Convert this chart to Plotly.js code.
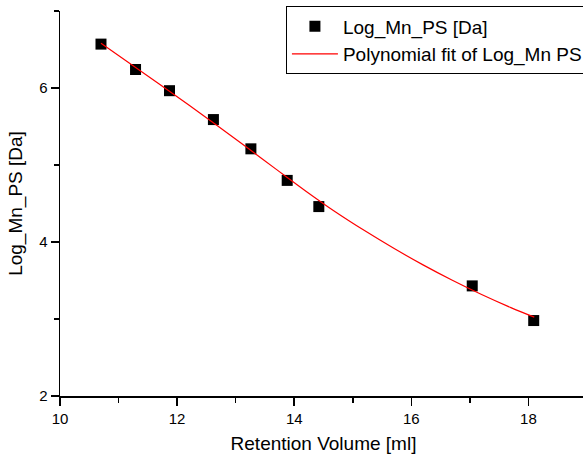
<!DOCTYPE html>
<html>
<head>
<meta charset="utf-8">
<script src="https://cdn.plot.ly/plotly-3.0.1.min.js"></script>
<style>
html,body{margin:0;padding:0;overflow:hidden;background:#fff;}
#chart{width:600px;height:455px;}
</style>
</head>
<body>
<div id="chart"></div>
<script>
// Measured data points
var retentionVolume = [10.70, 11.29, 11.87, 12.62, 13.26, 13.88, 14.42, 17.04, 18.09];
var logMnPS = [6.57, 6.24, 5.965, 5.59, 5.21, 4.80, 4.46, 3.43, 2.98];

// Fit curve
var fitX = [10.7, 11.2, 11.7, 12.2, 12.7, 13.2, 13.7, 14.2, 14.7, 15.2, 15.7, 16.2, 16.7, 17.2, 17.7, 18.1];
var fitY = [6.58, 6.315, 6.048, 5.778, 5.503, 5.223, 4.94, 4.66, 4.393, 4.148, 3.918, 3.703, 3.503, 3.318, 3.148, 3.024];

var seriesName = 'Log_Mn_PS [Da]';
var fitName = 'Polynomial fit of Log_Mn PS';
var xTitle = 'Retention Volume [ml]';
var yTitle = 'Log_Mn_PS [Da]';

var font = 'Liberation Sans, Arial, Helvetica, sans-serif';

var traces = [
  {
    x: retentionVolume, y: logMnPS, name: seriesName,
    type: 'scatter', mode: 'markers',
    marker: {symbol: 'square', size: 11, color: '#000000', line: {width: 0}}
  },
  {
    x: fitX, y: fitY, name: fitName,
    type: 'scatter', mode: 'lines',
    line: {color: '#ff0000', width: 1.2, shape: 'spline', smoothing: 1}
  }
];

var layout = {
  width: 600, height: 455,
  margin: {l: 60, r: 13, t: 11, b: 59, autoexpand: false},
  paper_bgcolor: '#ffffff', plot_bgcolor: '#ffffff',
  font: {family: font, color: '#000000', size: 15},
  showlegend: true,
  legend: {
    x: 0.4287, y: 1.012, xanchor: 'left', yanchor: 'top',
    bgcolor: '#ffffff', bordercolor: '#000000', borderwidth: 1,
    font: {family: font, size: 19, color: '#000000'},
    itemwidth: 46, tracegroupgap: 0
  },
  xaxis: {
    range: [10, 19], tick0: 10, dtick: 2,
    showgrid: false, zeroline: false,
    showline: true, linecolor: '#000000', linewidth: 1.5,
    ticks: 'outside', ticklen: 8, tickwidth: 1.5, tickcolor: '#000000',
    minor: {dtick: 1, ticks: 'outside', ticklen: 5, tickwidth: 1.5, tickcolor: '#000000', showgrid: false},
    tickfont: {family: font, size: 15},
    title: {text: xTitle, font: {family: font, size: 19}, standoff: 11}
  },
  yaxis: {
    range: [2, 7], tick0: 2, dtick: 2,
    showgrid: false, zeroline: false,
    showline: true, linecolor: '#000000', linewidth: 1.5,
    ticks: 'outside', ticklen: 8, tickwidth: 1.5, tickcolor: '#000000',
    minor: {dtick: 1, ticks: 'outside', ticklen: 5, tickwidth: 1.5, tickcolor: '#000000', showgrid: false},
    tickfont: {family: font, size: 15},
    title: {text: yTitle, font: {family: font, size: 19}, standoff: 11}
  }
};

Plotly.newPlot('chart', traces, layout, {displayModeBar: false, staticPlot: true});
</script>
</body>
</html>
